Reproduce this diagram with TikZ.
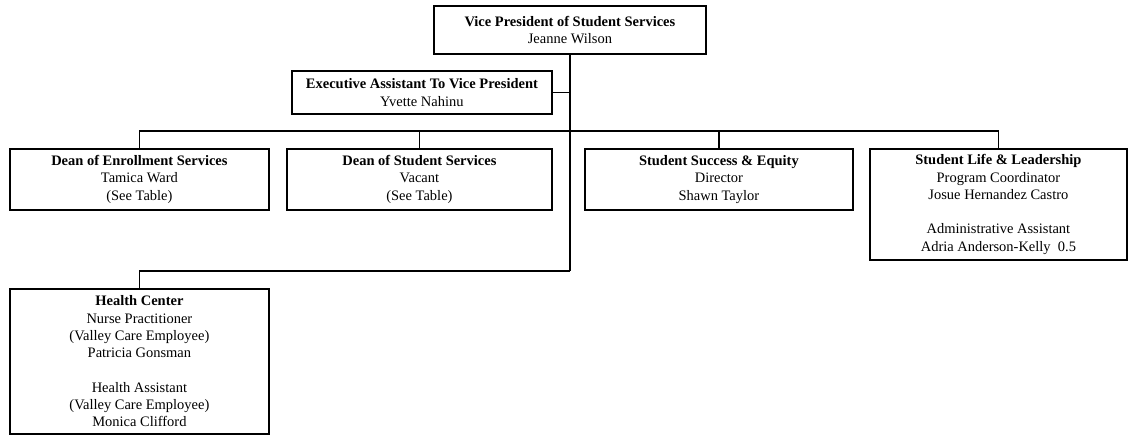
\documentclass[tikz,border=0pt]{standalone}
\usepackage{fontspec}
\setmainfont{Liberation Serif}
\usepackage{tikz}
\usetikzlibrary{calc}
\tikzstyle{unit} = [rectangle, draw=black, line width=1.3pt, inner sep=2pt, align=center, anchor=north west, font=\fontsize{10.3}{12.3}\selectfont]
\tikzstyle{link} = [line width=1.1pt]

\begin{document}
\begin{tikzpicture}
        \useasboundingbox (0,0) rectangle (28.2,-10.85);

        \node (vp) [unit, minimum width=6.8cm, minimum height=1.2cm] at (10.825,-0.125) {\textbf{Vice President of Student Services}\\Jeanne Wilson};
        \node (exec) [unit, minimum width=6.5cm, minimum height=1.075cm] at (7.275,-1.75) {\textbf{Executive Assistant To Vice President}\\Yvette Nahinu};

        \node (enroll) [unit, minimum width=6.475cm, minimum height=1.525cm] at (0.225,-3.7) {\textbf{Dean of Enrollment Services}\\Tamica Ward\\(See Table)};
        \node (deanss) [unit, minimum width=6.625cm, minimum height=1.525cm] at (7.15,-3.7) {\textbf{Dean of Student Services}\\Vacant\\(See Table)};
        \node (equity) [unit, minimum width=6.7cm, minimum height=1.525cm] at (14.6,-3.7) {\textbf{Student Success \& Equity}\\Director\\Shawn Taylor};
        \node (life) [unit, minimum width=6.425cm, minimum height=2.775cm] at (21.725,-3.7) {\textbf{Student Life \& Leadership}\\Program Coordinator\\Josue Hernandez Castro\\[12.3pt]Administrative Assistant\\Adria Anderson-Kelly~~0.5};

        \node (health) [unit, minimum width=6.475cm, minimum height=3.625cm] at (0.225,-7.2) {\textbf{Health Center}\\Nurse Practitioner\\(Valley Care Employee)\\Patricia Gonsman\\[12.3pt]Health Assistant\\(Valley Care Employee)\\Monica Clifford};

        % trunk and bus rows
        \coordinate (low) at (0,-6.775);
        \coordinate (busrow) at (0,-3.275);
        \coordinate (trunk) at (vp.south |- low);

        \draw[link] (vp.south) -- (trunk);
        \draw[link] (exec.east) -- (exec.east -| vp.south);
        \draw[link] (enroll.north) -- (enroll.north |- busrow) -- (life.north |- busrow) -- (life.north);
        \draw[link] (deanss.north) -- (deanss.north |- busrow);
        \draw[link] (equity.north) -- (equity.north |- busrow);
        \draw[link] (trunk) -- (trunk -| health.north) -- (health.north);

    \end{tikzpicture}
\end{document}
